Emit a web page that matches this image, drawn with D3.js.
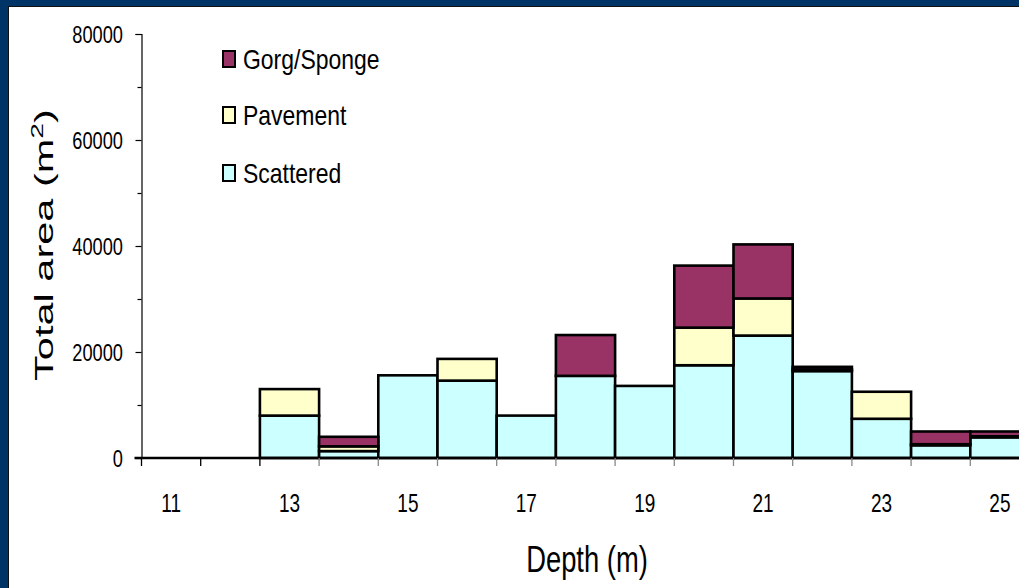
<!DOCTYPE html>
<html><head><meta charset="utf-8">
<script src="https://cdn.jsdelivr.net/npm/d3@7"></script>
<style>
html,body{margin:0;padding:0;background:#003366;}
svg{display:block;}
</style></head>
<body>
<svg id="c" width="1019" height="588"></svg>
<script>
const depths = [11,12,13,14,15,16,17,18,19,20,21,22,23,24,25,26];
const scattered = [0,0,8000,1300,15600,14600,8000,15500,13600,17500,23100,16400,7400,2400,3900,0];
const pavement  = [0,0,5000,900,0,4100,0,0,0,7100,7000,300,5100,200,200,0];
const gorgSponge= [0,0,0,1800,0,0,0,7700,0,11700,10200,500,0,2400,900,0];
const seriesNames = ["Scattered","Pavement","Gorg/Sponge"];
const seriesColors = ["#ccffff","#ffffcc","#993366"];
const yTicks = [0,20000,40000,60000,80000];
const xLabels = [11,13,15,17,19,21,23,25];

const FONT = "'Liberation Sans',Arial,sans-serif";
const svg = d3.select("#c");
// frame
svg.append("rect").attr("x",0).attr("y",0).attr("width",1019).attr("height",588).attr("fill","#003366");
svg.append("rect").attr("x",8).attr("y",7).attr("width",1011).attr("height",581).attr("fill","#ffffff");
svg.append("line").attr("x1",8.5).attr("x2",8.5).attr("y1",7).attr("y2",588).attr("stroke","#111").attr("stroke-width",1);
svg.append("line").attr("x1",8).attr("x2",1019).attr("y1",6.5).attr("y2",6.5).attr("stroke","#111").attr("stroke-width",1);

function ntext(parent, x, y, str, size, sx, anchor){
  return parent.append("text")
    .attr("transform",`translate(${x},${y}) scale(${sx},1)`)
    .attr("text-anchor",anchor||"start")
    .attr("font-family",FONT).attr("font-size",size).attr("fill","#000")
    .text(str);
}

const x0 = 141.5, bw = 59.2;
const x = d3.scaleBand().domain(depths).range([x0, x0 + bw*depths.length]).padding(0);
const y = d3.scaleLinear().domain([0,80000]).range([458,34]);

const rows = depths.map((d,i)=>({depth:d, Scattered:scattered[i], Pavement:pavement[i], "Gorg/Sponge":gorgSponge[i]}));
const stack = d3.stack().keys(seriesNames)(rows);

const g = svg.append("g");
stack.forEach((layer,k)=>{
  g.selectAll(null).data(layer.filter(d=>d[1]-d[0]>0)).enter().append("rect")
    .attr("x",d=>x(d.data.depth))
    .attr("width",x.bandwidth())
    .attr("y",d=>y(d[1]))
    .attr("height",d=>y(d[0])-y(d[1]))
    .attr("fill",seriesColors[k])
    .attr("stroke","#000").attr("stroke-width",2.6);
});

// y axis
const yAxis = d3.axisLeft(y).tickValues(d3.range(0,80001,10000)).tickSize(6).tickFormat("");
const ya = svg.append("g").attr("transform",`translate(${x0},0)`).call(yAxis);
ya.select(".domain").attr("stroke","#000").attr("stroke-width",1.2);
ya.selectAll(".tick line").attr("stroke","#000").attr("stroke-width",1.2);
ya.selectAll(".tick line").filter(d=>!yTicks.includes(d)).attr("x2",-4);
yTicks.forEach(v=>{
  ntext(svg, 123, y(v)+8.5, String(v), 24, 0.76, "end");
});

// x axis
const xa = svg.append("g").attr("transform",`translate(0,${y(0)})`);
xa.append("line").attr("x1",x0-7).attr("x2",1019).attr("y1",0).attr("y2",0).attr("stroke","#000").attr("stroke-width",2.5);
const edges = depths.map(d=>x(d));
xa.selectAll(null).data(edges).enter().append("line")
  .attr("x1",d=>d).attr("x2",d=>d).attr("y1",0).attr("y2",8)
  .attr("stroke",(d,i)=> i<3 ? "#000" : "#888").attr("stroke-width",1.3);
xLabels.forEach(v=>{
  ntext(svg, x(v)+x.bandwidth()/2, 512, String(v), 25, 0.76, "middle");
});

// axis titles
ntext(svg, 587, 572, "Depth (m)", 37, 0.74, "middle");

const yt = svg.append("text").attr("text-anchor","middle")
  .attr("font-family",FONT).attr("font-size",25).attr("fill","#000");
yt.append("tspan").text("Total area (m");
yt.append("tspan").attr("dy",-10).attr("font-size",17).text("2");
yt.append("tspan").attr("dy",10).text(")");
const natural = yt.node().getComputedTextLength();
const ysx = 272 / natural;
yt.attr("transform",`translate(53,245) rotate(-90) scale(${ysx},1)`);

// legend
const legendItems = [
  {name:"Gorg/Sponge", color:seriesColors[2], y:69},
  {name:"Pavement", color:seriesColors[1], y:125},
  {name:"Scattered", color:seriesColors[0], y:183}
];
const lg = svg.append("g");
legendItems.forEach(it=>{
  lg.append("rect").attr("x",223).attr("y",it.y-18).attr("width",12).attr("height",16)
    .attr("fill",it.color).attr("stroke","#000").attr("stroke-width",2);
  ntext(lg, 243, it.y, it.name, 28, 0.82, "start");
});
</script>
</body></html>
